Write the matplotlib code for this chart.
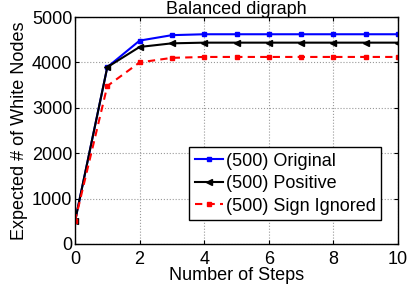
import matplotlib
matplotlib.use("Agg")
import matplotlib.pyplot as plt
import numpy as np

steps = [0, 1, 2, 3, 4, 5, 6, 7, 8, 9, 10]
original = [500, 3895, 4480, 4600, 4620, 4620, 4620, 4620, 4620, 4620, 4620]
positive = [500, 3895, 4340, 4420, 4435, 4435, 4435, 4435, 4435, 4435, 4435]
sign_ignored = [500, 3480, 4000, 4100, 4120, 4120, 4120, 4120, 4120, 4120, 4120]

plt.rcParams['font.family'] = ['Liberation Sans', 'DejaVu Sans']
fs = 13

fig = plt.figure(figsize=(4.08, 2.9), dpi=100)
ax = fig.add_axes([75 / 408, 46 / 290, 323 / 408, 227 / 290])

ax.plot(steps, original, '-s', color='blue', lw=1.5, ms=3.5, label='(500) Original')
ax.plot(steps, positive, '-<', color='black', lw=1.5, ms=4, label='(500) Positive')
ax.plot(steps, sign_ignored, '--s', color='red', lw=1.5, ms=3.5, label='(500) Sign Ignored',
        dashes=(3.5, 2.5))

ax.set_xlim(0, 10)
ax.set_ylim(0, 5000)
ax.set_xticks([0, 2, 4, 6, 8, 10])
ax.set_yticks([0, 1000, 2000, 3000, 4000, 5000])
ax.grid(True, linestyle=':', color='#999999', lw=0.8)
ax.tick_params(axis='both', direction='in', top=True, right=True, labelsize=fs, length=3)
ax.tick_params(axis='x', pad=5)
ax.tick_params(axis='y', pad=2)
for s in ax.spines.values():
    s.set_linewidth(1.0)

ax.set_title('Balanced digraph', fontsize=fs, pad=2.5)
ax.set_xlabel('Number of Steps', fontsize=fs, labelpad=-1)
ax.set_ylabel('Expected # of White Nodes', fontsize=fs, labelpad=3)

leg = ax.legend(loc='lower right', bbox_to_anchor=(0.947, 0.106), borderaxespad=0,
                fontsize=fs, fancybox=False, edgecolor='black', framealpha=1,
                handlelength=1.55, handletextpad=0.15, borderpad=0.3, labelspacing=0.3)
leg.get_frame().set_linewidth(1.0)

fig.savefig('out.png', dpi=100)
